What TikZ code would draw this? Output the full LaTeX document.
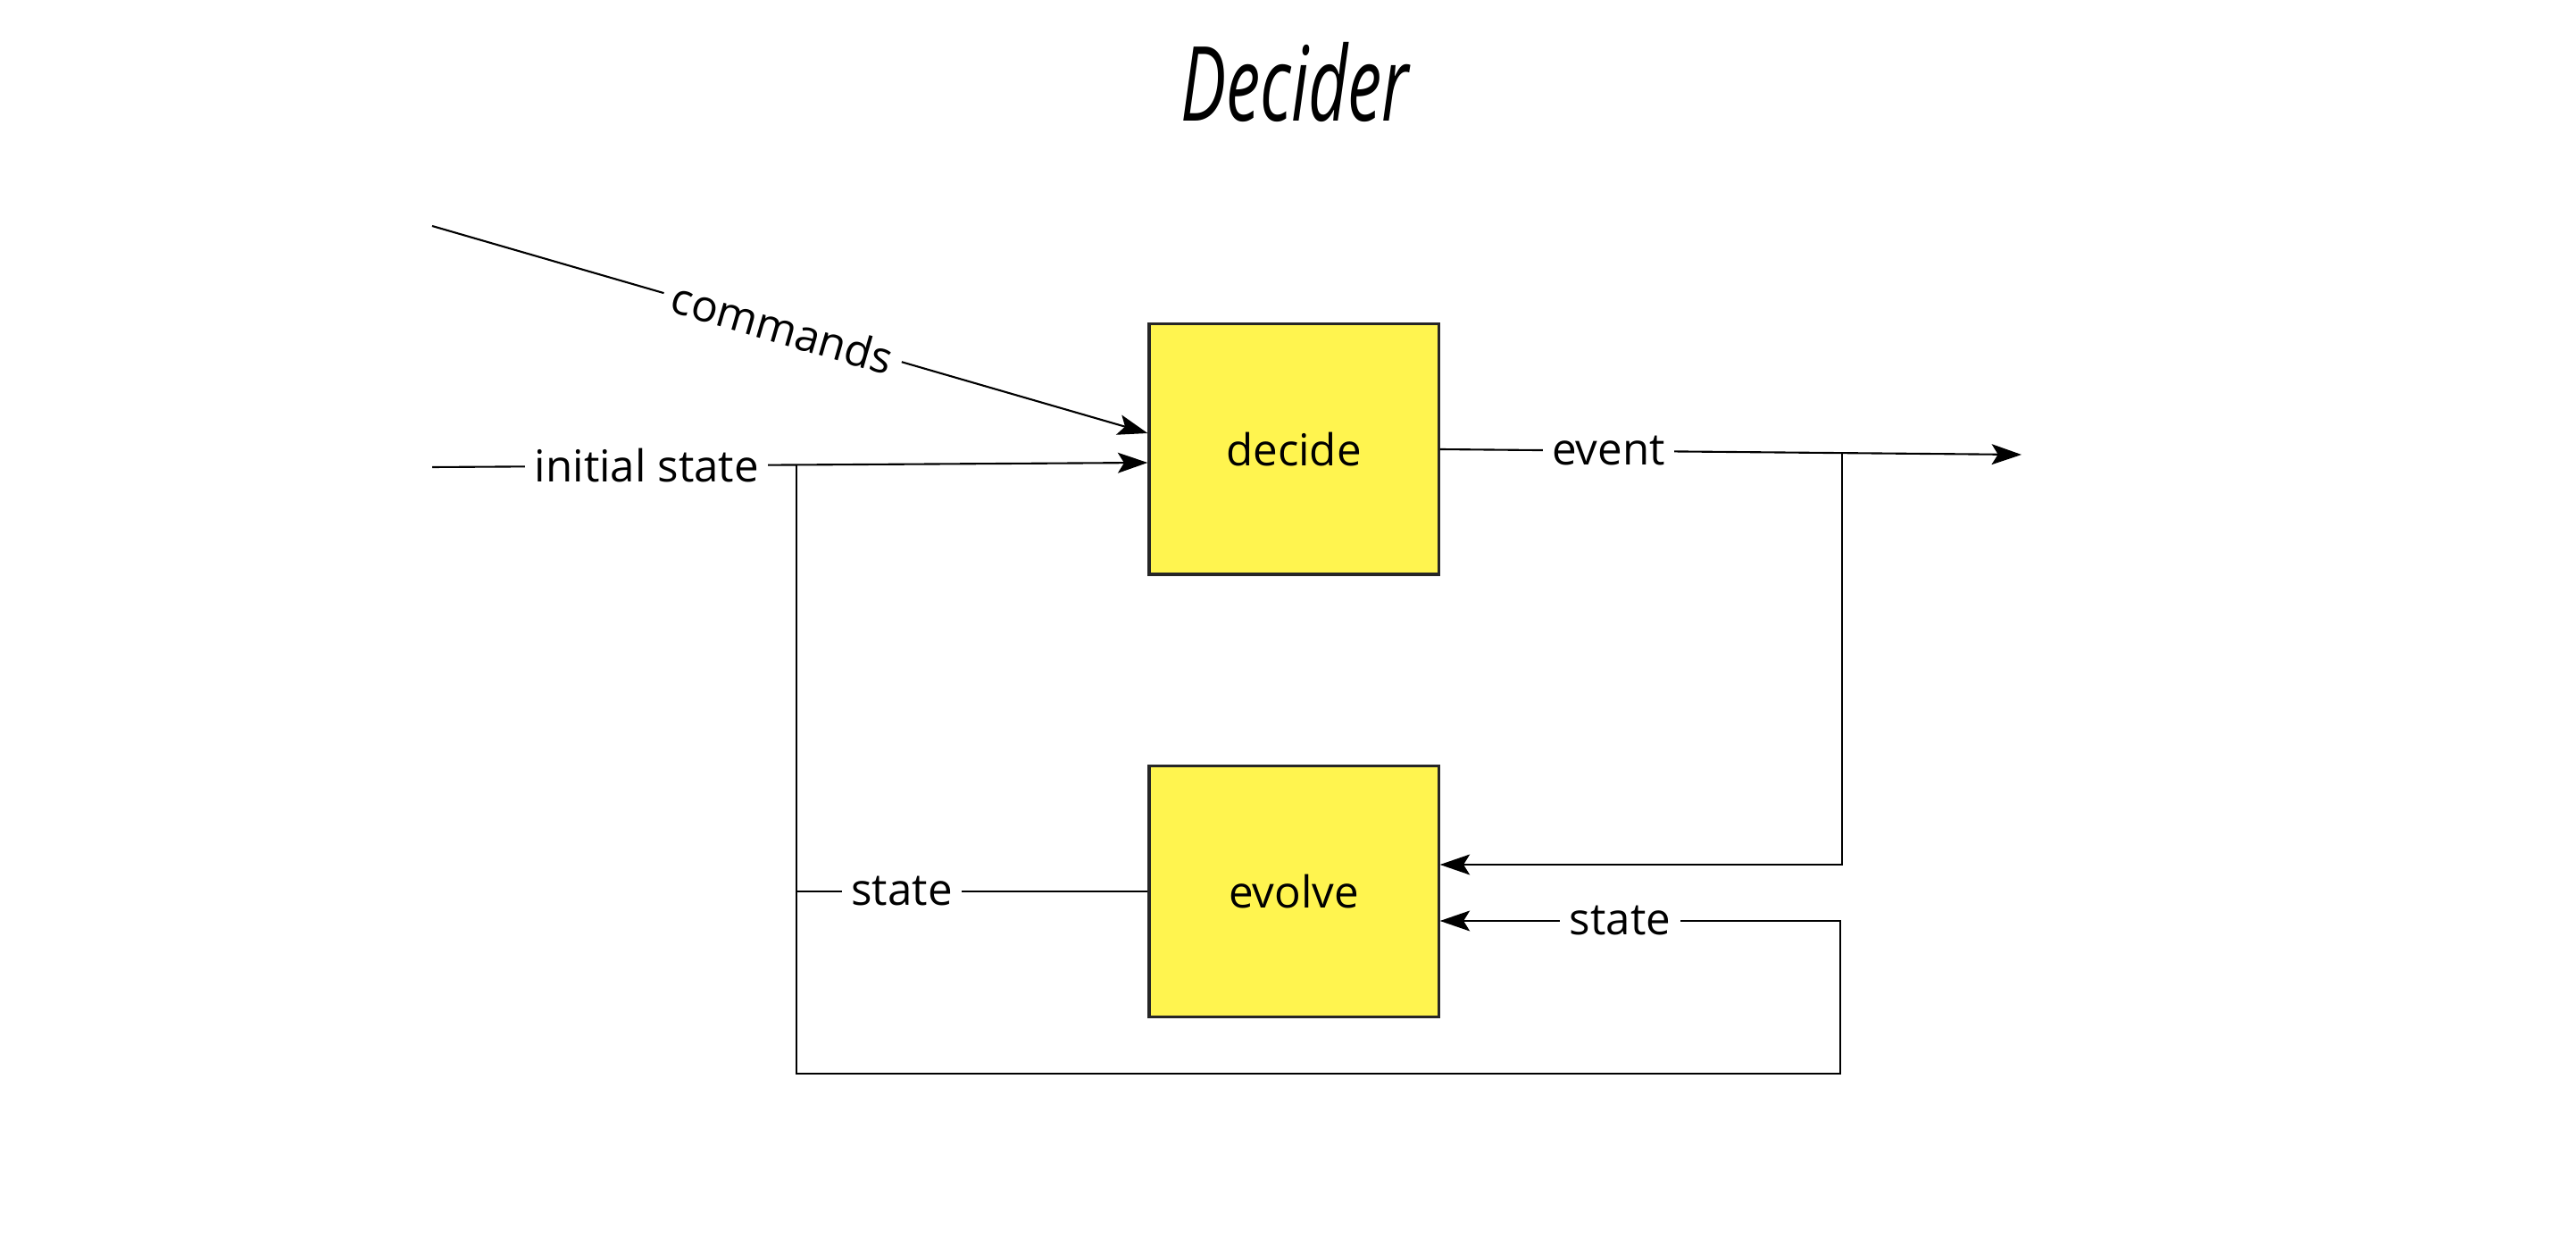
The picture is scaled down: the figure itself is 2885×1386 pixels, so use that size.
\documentclass[tikz,border=0pt]{standalone}
\usepackage{fontspec}
\setmainfont{Open Sans}
\usepackage{tikz}
\usetikzlibrary{positioning,arrows.meta,calc}
\definecolor{stickyyellow}{RGB}{255,244,79}
\tikzstyle{block} = [rectangle, draw=black!85, line width=0.9pt, fill=stickyyellow, minimum width=3.24cm, minimum height=2.8cm, font=\fontsize{14}{17}\selectfont]
\tikzstyle{arrow} = [line width=0.6pt,-{Stealth[length=9.5pt,width=6.5pt,inset=2pt]}]
\tikzstyle{wire}  = [line width=0.6pt]

\begin{document}
\begin{tikzpicture}[x=0.01cm,y=-0.01cm,
			lbl/.style={fill=white, inner sep=3pt, font=\fontsize{14}{17}\selectfont}]
		\useasboundingbox (0,0) rectangle (2885,1386);

		\node[font=\fontsize{33}{40}\selectfont\itshape] (title) at (1450,92) {\scalebox{0.66}[1]{Decider}};

		\node[block] (decide) at (1449,503) {decide};
		\node[block] (evolve) at (1449,998) {evolve};

		\coordinate (cmdin) at (484,253);
		\coordinate (initin) at (484,523);
		\coordinate (split) at (892,520);
		\coordinate (out) at (2264,509);
		\coordinate (tap) at (2063,507);
		\coordinate (loopbl) at (892,1202);
		\coordinate (loopbr) at (2061,1202);
		\coordinate (loopr) at (2061,1031);

		\draw[arrow] (cmdin) -- node[lbl,sloped,pos=0.49] {commands} ($(decide.west)+(0,-18)$);
		\draw[arrow] (initin) -- node[lbl,pos=0.3] {initial state} ($(decide.west)+(0,15)$);
		\draw[arrow] (decide.east) -- node[lbl,pos=0.29] {event} (out);
		\draw[arrow] (tap) |- ($(evolve.east)+(0,-30)$);
		\draw[wire] (evolve.west) -- node[lbl,pos=0.7] {state} (split |- evolve.west);
		\draw[arrow] (split) -- (loopbl) -- (loopbr) -- (loopr) -- node[lbl,pos=0.55] {state} (evolve.east |- loopr);
	\end{tikzpicture}
\end{document}
